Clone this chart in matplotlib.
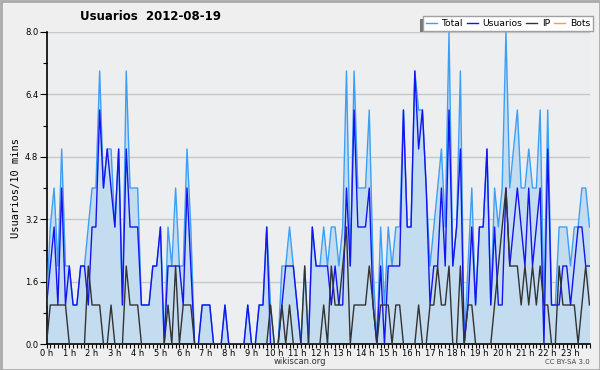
import numpy as np
import matplotlib
matplotlib.use('Agg')
import matplotlib.pyplot as plt
from matplotlib.patches import Rectangle
from matplotlib.ticker import MultipleLocator, FixedLocator

title = 'Usuarios  2012-08-19'
ylabel = 'Usuarios/10 mins'
hour_labels = ['%d h' % h for h in range(24)]
series_names = ['Total', 'Usuarios', 'IP', 'Bots']

# one value per 10 minutes, 144 per day
total = [1, 3, 4, 2, 5, 2, 2, 1, 1, 2, 2, 3, 4, 4, 7, 4, 5, 5, 3, 5, 1, 7, 4, 4,
         4, 1, 1, 1, 2, 2, 3, 0, 3, 2, 4, 2, 2, 5, 3, 0, 0, 1, 1, 1, 0, 0, 0, 1,
         0, 0, 0, 0, 0, 1, 0, 0, 1, 1, 3, 1, 0, 0, 2, 2, 3, 2, 1, 0, 2, 0, 3, 2,
         2, 3, 2, 3, 3, 2, 3, 7, 2, 7, 4, 4, 4, 6, 2, 0, 3, 1, 3, 2, 3, 3, 6, 3,
         3, 7, 6, 6, 4, 2, 3, 4, 5, 3, 8, 2, 3, 7, 0, 2, 4, 1, 3, 3, 5, 1, 4, 3,
         4, 8, 4, 5, 6, 4, 4, 5, 4, 4, 6, 1, 6, 1, 1, 3, 3, 3, 2, 3, 3, 4, 4, 3]
usuarios = [1, 2, 3, 1, 4, 1, 2, 1, 1, 2, 2, 1, 3, 3, 6, 4, 5, 4, 3, 5, 1, 5, 3, 3,
            3, 1, 1, 1, 2, 2, 3, 0, 2, 2, 2, 2, 1, 4, 2, 0, 0, 1, 1, 1, 0, 0, 0, 1,
            0, 0, 0, 0, 0, 1, 0, 0, 1, 1, 3, 0, 0, 0, 1, 2, 2, 2, 1, 0, 0, 0, 3, 2,
            2, 2, 2, 1, 2, 1, 1, 4, 2, 6, 3, 3, 3, 4, 1, 0, 2, 0, 2, 2, 2, 2, 6, 3,
            3, 7, 5, 6, 4, 1, 2, 2, 4, 2, 6, 2, 3, 5, 0, 1, 3, 1, 3, 3, 5, 1, 3, 1,
            1, 4, 2, 3, 4, 3, 2, 4, 2, 3, 4, 0, 5, 1, 1, 1, 2, 2, 1, 2, 3, 3, 2, 2]
ip = [0, 1, 1, 1, 1, 1, 0, 0, 0, 0, 0, 2, 1, 1, 1, 0, 0, 1, 0, 0, 0, 2, 1, 1,
      1, 0, 0, 0, 0, 0, 0, 0, 1, 0, 2, 0, 1, 1, 1, 0, 0, 0, 0, 0, 0, 0, 0, 0,
      0, 0, 0, 0, 0, 0, 0, 0, 0, 0, 0, 1, 0, 0, 1, 0, 1, 0, 0, 0, 2, 0, 0, 0,
      0, 1, 0, 2, 1, 1, 2, 3, 0, 1, 1, 1, 1, 2, 1, 0, 1, 1, 1, 0, 1, 1, 0, 0,
      0, 0, 1, 0, 0, 1, 1, 2, 1, 1, 2, 0, 0, 2, 0, 1, 1, 0, 0, 0, 0, 0, 1, 2,
      3, 4, 2, 2, 2, 1, 2, 1, 2, 1, 2, 1, 1, 0, 0, 2, 1, 1, 1, 1, 0, 1, 2, 1]
bots = [0, 0, 0, 0, 0, 0, 0, 0, 0, 0, 0, 0, 0, 0, 0, 0, 0, 0, 0, 0, 0, 0, 0, 0,
        0, 0, 0, 0, 0, 0, 0, 0, 0, 0, 0, 0, 0, 0, 0, 0, 0, 0, 0, 0, 0, 0, 0, 0,
        0, 0, 0, 0, 0, 0, 0, 0, 0, 0, 0, 0, 0, 0, 0, 0, 0, 0, 0, 0, 0, 0, 0, 0,
        0, 0, 0, 0, 0, 0, 0, 0, 0, 0, 0, 0, 0, 0, 0, 0, 0, 0, 0, 0, 0, 0, 0, 0,
        0, 0, 0, 0, 0, 0, 0, 0, 0, 0, 0, 0, 0, 0, 0, 0, 0, 0, 0, 0, 0, 0, 0, 0,
        0, 0, 0, 0, 0, 0, 0, 0, 0, 0, 0, 0, 0, 0, 0, 0, 0, 0, 0, 0, 0, 0, 0, 0]

c_fill = '#c4dcf0'
c_total = '#3c9ff5'
c_usu = '#1414f0'
c_ip = '#333333'
c_bots = '#ffa31a'

hours = np.arange(len(total)) / 6.0

fig = plt.figure(figsize=(6, 3.7), dpi=100, facecolor='#efefef')
ax = fig.add_axes([46.5 / 600, 26 / 370, 543 / 600, 312 / 370])
ax.set_facecolor('#edeef0')

ax.fill_between(hours, 0, total, color=c_fill, lw=0, zorder=1)
ax.plot(hours, total, color=c_total, lw=1, label=series_names[0], zorder=3)
ax.plot(hours, usuarios, color=c_usu, lw=1, label=series_names[1], zorder=4)
ax.plot(hours, ip, color=c_ip, lw=1, label=series_names[2], zorder=5)
ax.plot(hours, bots, color=c_bots, lw=1, label=series_names[3], zorder=2)

ax.set_xlim(0, hours[-1])
ax.set_ylim(0, 8)
ax.yaxis.set_major_locator(MultipleLocator(1.6))
ax.yaxis.set_minor_locator(MultipleLocator(0.8))
ax.set_yticklabels(['%.1f' % v for v in ax.get_yticks()])
ax.xaxis.set_major_locator(FixedLocator(range(24)))
ax.xaxis.set_minor_locator(MultipleLocator(1 / 6.0))
ax.set_xticklabels(hour_labels)
ax.tick_params(axis='both', which='both', direction='out', labelsize=6,
               color='black', width=0.8)
ax.tick_params(axis='y', which='major', length=5, pad=1)
ax.tick_params(axis='y', which='minor', length=3)
ax.tick_params(axis='x', which='both', length=3, pad=0.5)
ax.grid(axis='y', which='major', color='#c8c8c8', lw=1)
ax.set_axisbelow(True)
for side in ['top', 'right']:
    ax.spines[side].set_visible(False)
ax.spines['left'].set_linewidth(1.2)
ax.spines['bottom'].set_linewidth(1.2)

ax.set_ylabel(ylabel, family='DejaVu Sans Mono', fontsize=7.5, labelpad=3)
fig.text(151 / 600, 1 - 16 / 370, title, ha='center', va='center',
         fontsize=8.5, fontweight='bold')
fig.text(300 / 600, 1 - 362 / 370, 'wikiscan.org', ha='center', va='center',
         fontsize=6, color='#333333')
fig.text(590 / 600, 1 - 362 / 370, 'CC BY-SA 3.0', ha='right', va='center',
         fontsize=5, color='#444444')

leg = fig.legend(loc='upper right', bbox_to_anchor=(593 / 600, 1 - 16 / 370),
                 ncol=4, fontsize=6.7, handlelength=1.2, handletextpad=0.5,
                 columnspacing=0.4, borderpad=0.3, fancybox=False,
                 frameon=True, edgecolor='#a0a0a0', facecolor='white',
                 framealpha=1, borderaxespad=0)
leg.get_frame().set_linewidth(1)
fig.canvas.draw()
bb = leg.get_window_extent()
fig.patches.append(Rectangle((bb.x0 - 3, bb.y0 - 3), bb.width, bb.height,
                             transform=None, facecolor='#777777',
                             edgecolor='none', zorder=-1))
leg.set_zorder(10)

fig.patches.append(Rectangle((0.5, 0.5), 599, 369, transform=None,
                             fill=False, edgecolor='#aaaaaa', lw=2))

fig.savefig('out.png', dpi=100, facecolor=fig.get_facecolor())
